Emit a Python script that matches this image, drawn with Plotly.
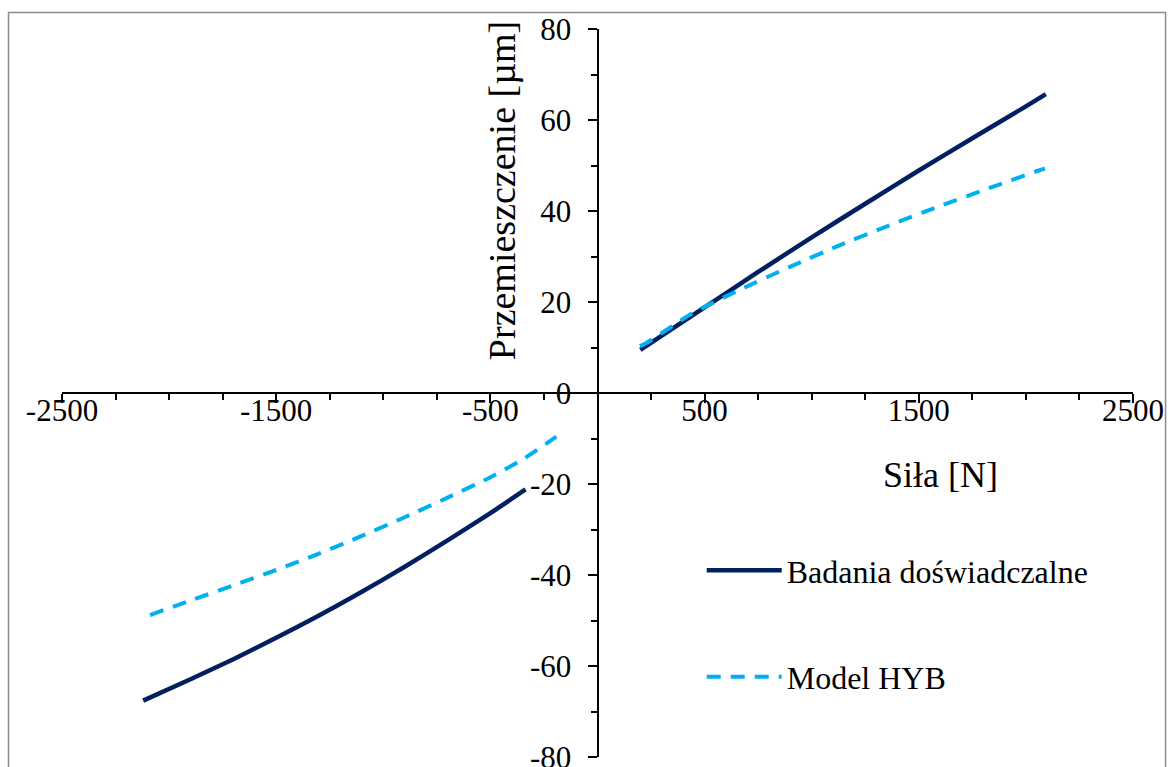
import plotly.graph_objects as go

# Badania doświadczalne (measured) – compression and tension branches
exp_force_neg = [-2121, -1900, -1700, -1500, -1300, -1100, -900, -700, -500, -336]
exp_disp_neg = [-67.6, -62.9, -58.5, -53.8, -48.9, -43.7, -38.2, -32.4, -26.4, -21.2]
exp_force_pos = [200, 500, 750, 1000, 1250, 1500, 1750, 2000, 2093]
exp_disp_pos = [9.5, 18.8, 26.6, 34.2, 41.6, 48.9, 56.0, 63.0, 65.7]

# Model HYB – computed response
hyb_force_neg = [-2089, -1900, -1700, -1500, -1300, -1100, -900, -700, -500, -350, -192]
hyb_disp_neg = [-48.8, -45.6, -42.3, -38.9, -35.3, -31.4, -27.3, -23.0, -18.5, -14.6, -9.6]
hyb_force_pos = [198, 232, 439, 660, 893, 1127, 1360, 1593, 1827, 2060, 2089]
hyb_disp_pos = [10.3, 11.1, 17.4, 22.6, 27.6, 32.4, 36.8, 41.0, 45.0, 48.9, 49.3]

# Axis ticks
x_major = [-2500, -1500, -500, 500, 1500, 2500]
x_minor = [v for v in range(-2500, 2501, 250) if v not in x_major]
y_major = [-80, -60, -40, -20, 0, 20, 40, 60, 80]
y_minor = [-70, -50, -30, -10, 10, 30, 50, 70]

FONT = "Liberation Serif"
NAVY = "#002060"
SKY = "#00B0F0"


def join(a, b):
    return list(a) + [None] + list(b)


fig = go.Figure()
fig.add_trace(go.Scatter(
    x=join(exp_force_neg, exp_force_pos),
    y=join(exp_disp_neg, exp_disp_pos),
    mode="lines", name="Badania doświadczalne", legendgroup="a",
    line=dict(color=NAVY, width=4.5, shape="spline", smoothing=0.6),
    connectgaps=False,
))
fig.add_trace(go.Scatter(
    x=join(hyb_force_neg, hyb_force_pos),
    y=join(hyb_disp_neg, hyb_disp_pos),
    mode="lines", name="Model HYB", legendgroup="b",
    line=dict(color=SKY, width=4, dash="14px,10px", shape="spline", smoothing=0.6),
    connectgaps=False,
))

axis_common = dict(
    showgrid=False, zeroline=False, showline=True, linecolor="black", linewidth=2,
    ticks="outside", ticklen=9, tickwidth=2, tickcolor="black",
    tickfont=dict(family=FONT, size=31, color="black"),
    anchor="free", position=0.5, ticklabeloverflow="allow", automargin=False,
)

fig.update_layout(
    width=1169, height=767,
    margin=dict(l=62, r=36, t=29, b=10),
    paper_bgcolor="white", plot_bgcolor="white",
    xaxis=dict(
        range=[-2500, 2500], tickmode="array", tickvals=x_major,
        ticktext=[str(v) for v in x_major],
        minor=dict(tickvals=x_minor, ticks="outside", ticklen=6, tickwidth=2, tickcolor="black"),
        ticklabelstandoff=-19,
        **axis_common,
    ),
    yaxis=dict(
        range=[-80, 80], tickmode="array", tickvals=y_major,
        ticktext=[str(v) for v in y_major],
        minor=dict(tickvals=y_minor, ticks="outside", ticklen=6, tickwidth=2, tickcolor="black"),
        ticklabelstandoff=10,
        **axis_common,
    ),
    showlegend=True,
    legend=dict(
        x=0.5973, y=0.294, xanchor="left", yanchor="top",
        font=dict(family=FONT, size=32, color="black"),
        traceorder="grouped", tracegroupgap=62, itemwidth=75,
        bgcolor="rgba(0,0,0,0)",
    ),
    annotations=[
        dict(text="Przemieszczenie [µm]", xref="paper", yref="paper",
             x=0.411, y=0.7775, xanchor="center", yanchor="middle",
             textangle=-90, showarrow=False,
             font=dict(family=FONT, size=38, color="black")),
        dict(text="Siła [N]", xref="paper", yref="paper",
             x=0.820, y=0.387, xanchor="center", yanchor="middle",
             showarrow=False,
             font=dict(family=FONT, size=36, color="black")),
    ],
    shapes=[
        dict(type="rect", xref="paper", yref="paper",
             x0=-0.04995, x1=1.0304, y0=-0.03, y1=1.02266,
             line=dict(color="#8c8c8c", width=1.5), layer="below"),
    ],
)

fig.write_html("out.html")
